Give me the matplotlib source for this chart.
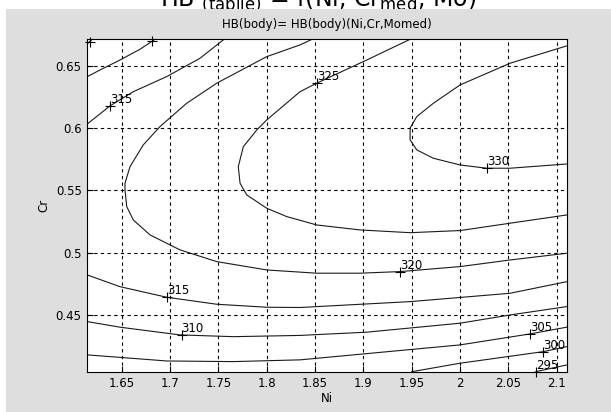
import matplotlib
matplotlib.use("Agg")
import matplotlib.pyplot as plt
from matplotlib.patches import Rectangle

plt.rcParams['font.family'] = ['DejaVu Sans']
plt.rcParams['mathtext.default'] = 'regular'

# contour lines, (Ni, Cr) pairs per HB level
ni_305_top = [1.6144, 1.6195]
cr_305_top = [0.6675, 0.6711]

ni_310_top = [1.6144, 1.6276, 1.6482, 1.6689, 1.6844]
cr_310_top = [0.6412, 0.6465, 0.6545, 0.6631, 0.6711]

ni_315_top = [1.6144, 1.6379, 1.6620, 1.6966, 1.7310, 1.7558]
cr_315_top = [0.6032, 0.6177, 0.6291, 0.6412, 0.6559, 0.6711]

ni_320 = [1.8469, 1.8345, 1.8000, 1.7483, 1.7172, 1.6896, 1.6723, 1.6586,
          1.6534, 1.6534, 1.6552, 1.6620, 1.6793, 1.7103, 1.7483, 1.8000,
          1.8517, 1.8965, 1.9379, 2.0000, 2.0517, 2.1103]
cr_320 = [0.6711, 0.6666, 0.6572, 0.6359, 0.6198, 0.6011, 0.5864, 0.5690,
          0.5557, 0.5503, 0.5369, 0.5262, 0.5142, 0.5022, 0.4928, 0.4861,
          0.4835, 0.4835, 0.4848, 0.4888, 0.4941, 0.4995]

ni_325 = [1.9483, 1.9035, 1.8517, 1.8345, 1.8000, 1.7897, 1.7758, 1.7706,
          1.7724, 1.7793, 1.8000, 1.8207, 1.8517, 1.8965, 1.9483, 2.0000,
          2.0517, 2.1103]
cr_325 = [0.6711, 0.6545, 0.6359, 0.6291, 0.6064, 0.5984, 0.5850, 0.5690,
          0.5557, 0.5463, 0.5356, 0.5289, 0.5222, 0.5182, 0.5160, 0.5177,
          0.5236, 0.5302]

ni_330 = [2.1103, 2.0517, 2.0000, 1.9724, 1.9552, 1.9483, 1.9483, 1.9552,
          1.9724, 2.0000, 2.0276, 2.0517, 2.1103]
cr_330 = [0.6658, 0.6519, 0.6345, 0.6198, 0.6091, 0.5998, 0.5904, 0.5824,
          0.5757, 0.5703, 0.5677, 0.5677, 0.5711]

ni_315 = [1.6144, 1.6482, 1.6966, 1.7483, 1.8000, 1.8345, 1.9483, 2.0517, 2.1103]
cr_315 = [0.4821, 0.4727, 0.4642, 0.4586, 0.4562, 0.4560, 0.4607, 0.4674, 0.4767]

ni_310 = [1.6144, 1.6482, 1.7103, 1.7655, 1.8345, 1.9035, 2.0000, 2.0517, 2.1103]
cr_310 = [0.4447, 0.4402, 0.4340, 0.4326, 0.4336, 0.4362, 0.4434, 0.4500, 0.4567]

ni_305 = [1.6144, 1.6966, 1.7655, 1.8345, 2.0000, 2.0724, 2.1103]
cr_305 = [0.4180, 0.4131, 0.4126, 0.4140, 0.4260, 0.4348, 0.4402]

ni_300 = [1.9500, 2.0000, 2.0862, 2.1103]
cr_300 = [0.4045, 0.4113, 0.4206, 0.4246]

ni_295 = [2.0783, 2.1103]
cr_295 = [0.4045, 0.4099]

# clabel positions
label_levels = [315, 325, 330, 320, 315, 310, 305, 300, 295]
label_ni = [1.6379, 1.8517, 2.0276, 1.9379, 1.6966, 1.712, 2.0724, 2.0862, 2.0783]
label_cr = [0.6177, 0.6359, 0.5677, 0.4848, 0.4642, 0.4340, 0.4348, 0.4206, 0.4045]
# '+' of labels that fall outside the top of the axes
top_mark_ni = [1.617, 1.6813]
top_mark_cr = [0.669, 0.6695]

x_ticks = [1.65, 1.7, 1.75, 1.8, 1.85, 1.9, 1.95, 2.0, 2.05, 2.1]
x_ticklabels = ['1.65', '1.7', '1.75', '1.8', '1.85', '1.9', '1.95', '2', '2.05', '2.1']
y_ticks = [0.45, 0.5, 0.55, 0.6, 0.65]
y_ticklabels = ['0.45', '0.5', '0.55', '0.6', '0.65']

lines = [(ni_305_top, cr_305_top), (ni_310_top, cr_310_top), (ni_315_top, cr_315_top),
         (ni_320, cr_320), (ni_325, cr_325), (ni_330, cr_330), (ni_315, cr_315),
         (ni_310, cr_310), (ni_305, cr_305), (ni_300, cr_300), (ni_295, cr_295)]

fig = plt.figure(figsize=(6.11, 4.12), dpi=100, facecolor='white')
bg = Rectangle((6 / 611, 0), 1 - 6 / 611, 1 - 9 / 412, transform=fig.transFigure,
               facecolor='#dedede', edgecolor='none', zorder=-1)
fig.add_artist(bg)

# big heading, only its lower part fits on the picture
fig.text(318 / 611, 1 - 6 / 412, r'HB $_{(tablie)}$ = f(Ni, Cr$_{med}$, Mo)',
         ha='center', va='baseline', fontsize=17, zorder=-2)

ax = fig.add_axes([87.3 / 611, 40.3 / 412, 479.4 / 611, 332.4 / 412])
ax.set_facecolor('white')

for ni, cr in lines:
    ax.plot(ni, cr, color='#1a1a1a', lw=0.8)

for lev, x, y in zip(label_levels, label_ni, label_cr):
    ax.plot(x, y, '+', color='k', ms=7, mew=0.8, clip_on=False)
    ax.text(x, y, str(lev), ha='left', va='bottom', fontsize=8.5)
ax.plot(top_mark_ni, top_mark_cr, '+', color='k', ms=7, mew=0.8, ls='none', clip_on=False)

ax.set_xlim(1.6144, 2.1103)
ax.set_ylim(0.4045, 0.6711)
ax.set_xticks(x_ticks)
ax.set_xticklabels(x_ticklabels)
ax.set_yticks(y_ticks)
ax.set_yticklabels(y_ticklabels)
ax.tick_params(direction='in', length=4, labelsize=8.5, pad=4)
ax.grid(True, color='k', linestyle=(0, (3, 3)), linewidth=0.8)
for sp in ax.spines.values():
    sp.set_linewidth(0.8)

ax.set_xlabel('Ni', fontsize=8.5, labelpad=1)
ax.set_ylabel('Cr', fontsize=8.5, labelpad=4)
ax.set_title('HB(body)= HB(body)(Ni,Cr,Momed)', fontsize=8.5, pad=8)

fig.savefig('out.png', dpi=100, facecolor=fig.get_facecolor())
